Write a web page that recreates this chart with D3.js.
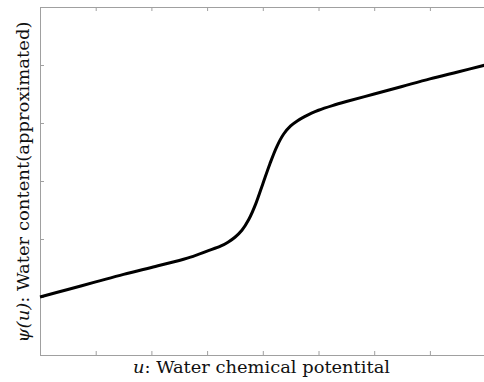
<!DOCTYPE html>
<html>
<head>
<meta charset="utf-8">
<script src="https://cdn.jsdelivr.net/npm/d3@7"></script>
<style>
  html, body { margin: 0; padding: 0; background: #fff; }
  svg { display: block; }
</style>
</head>
<body>
<svg id="chart" width="484" height="382"></svg>
<script>
// Water chemical potential u and approximated water content psi(u)
const uValues   = [0, 0.5, 1.0, 1.5, 2.0, 2.5, 2.75, 3.0, 3.25, 3.375, 3.5, 3.625, 3.75, 3.875, 4.0, 4.125, 4.25, 4.375, 4.5, 4.625, 4.75, 4.875, 5.0, 5.25, 5.5, 6.0, 6.5, 7.0, 7.5, 8.0];
const psiValues = [1.00, 1.13, 1.26, 1.39, 1.51, 1.63, 1.70, 1.79, 1.88, 1.945, 2.03, 2.15, 2.34, 2.61, 2.95, 3.29, 3.59, 3.81, 3.95, 4.04, 4.11, 4.17, 4.22, 4.30, 4.37, 4.50, 4.63, 4.76, 4.88, 5.00];

const xTicks = [0, 1, 2, 3, 4, 5, 6, 7, 8];
const yTicks = [0, 1, 2, 3, 4, 5, 6];

const xLabelVar = "u";
const xLabelText = ": Water chemical potentital";
const yLabelVar = "ψ(u)";
const yLabelText = ": Water content(approximated)";

const svg = d3.select("#chart");
const plotLeft = 40, plotTop = 7, plotRight = 485.6, plotBottom = 355;

const x = d3.scaleLinear().domain([0, 8]).range([plotLeft, plotRight]);
const y = d3.scaleLinear().domain([0, 6]).range([plotBottom, plotTop]);

const axisColor = "#a0a0a0";
function styleAxis(g) {
  g.select(".domain").attr("stroke", axisColor);
  g.selectAll(".tick line").attr("stroke", axisColor);
  g.selectAll(".tick text").remove();
}

// bottom and top axes with inward ticks
svg.append("g").attr("transform", `translate(0,${plotBottom})`)
  .call(d3.axisBottom(x).tickValues(xTicks).tickSizeInner(-4).tickSizeOuter(0).tickFormat(""))
  .call(styleAxis);
svg.append("g").attr("transform", `translate(0,${plotTop})`)
  .call(d3.axisTop(x).tickValues(xTicks).tickSizeInner(-4).tickSizeOuter(0).tickFormat(""))
  .call(styleAxis);
// left axis
svg.append("g").attr("transform", `translate(${plotLeft},0)`)
  .call(d3.axisLeft(y).tickValues(yTicks).tickSizeInner(-4).tickSizeOuter(0).tickFormat(""))
  .call(styleAxis);

// curve
const pts = uValues.map((u, i) => [u, psiValues[i]]);
svg.append("path")
  .datum(pts)
  .attr("fill", "none")
  .attr("stroke", "#000")
  .attr("stroke-width", 3)
  .attr("stroke-linejoin", "round")
  .attr("d", d3.line().x(d => x(d[0])).y(d => y(d[1])).curve(d3.curveCatmullRom.alpha(0.5)));

const serif = "'DejaVu Serif', serif";

// x label
const xl = svg.append("text")
  .attr("x", 261.5).attr("y", 373)
  .attr("text-anchor", "middle")
  .attr("font-family", serif)
  .attr("font-size", 16)
  .attr("fill", "#111")
  .attr("textLength", 257).attr("lengthAdjust", "spacingAndGlyphs");
xl.append("tspan").attr("font-style", "italic").text(xLabelVar);
xl.append("tspan").text(xLabelText);

// y label
const yl = svg.append("text")
  .attr("transform", "translate(29,182) rotate(-90)")
  .attr("text-anchor", "middle")
  .attr("font-family", serif)
  .attr("font-size", 16)
  .attr("fill", "#111")
  .attr("textLength", 321).attr("lengthAdjust", "spacingAndGlyphs");
yl.append("tspan").attr("font-style", "italic").text(yLabelVar);
yl.append("tspan").text(yLabelText);
</script>
</body>
</html>
